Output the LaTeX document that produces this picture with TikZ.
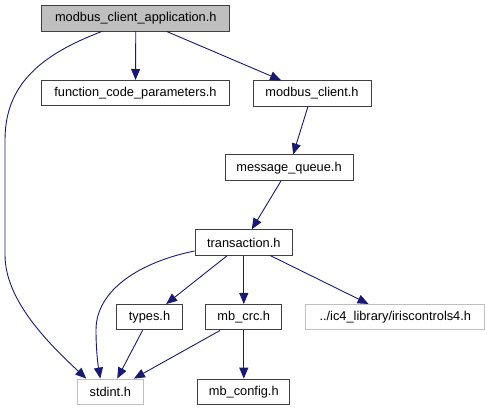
\documentclass[tikz,border=0pt]{standalone}
\usepackage{fontspec}
\setmainfont{Liberation Sans}
\usepackage{tikz}
\usetikzlibrary{arrows.meta}
\definecolor{edgeblue}{HTML}{191970}
\definecolor{boxline}{HTML}{404040}
\definecolor{sysline}{HTML}{BFBFBF}
\tikzset{
    hdr/.style={draw=boxline,line width=0.9pt,minimum height=25.5pt,inner sep=0pt,font=\fontsize{12.8}{15}\selectfont},
    syshdr/.style={hdr,draw=sysline},
    arrow/.style={-{Triangle[length=11pt,width=9pt]},draw=edgeblue,line width=0.9pt}
}
\begin{document}
\begin{tikzpicture}[x=1pt,y=-1pt]
    \useasboundingbox (0,0) rectangle (491,411);
    % header files
    \node[hdr,fill=gray!50,minimum width=188pt] (app) at (135.8,18.3) {modbus\_client\_application.h};
    \node[hdr,minimum width=188pt] (fcp) at (135.5,93.2) {function\_code\_parameters.h};
    \node[hdr,minimum width=118pt] (mc) at (312,93.5) {modbus\_client.h};
    \node[hdr,minimum width=128pt] (mq) at (289,167.7) {message\_queue.h};
    \node[hdr,minimum width=97.5pt] (tr) at (243.8,242.5) {transaction.h};
    \node[hdr,minimum width=66pt] (types) at (149.5,317.2) {types.h};
    \node[hdr,minimum width=76pt] (crc) at (243.8,317.2) {mb\_crc.h};
    \node[syshdr,minimum width=179pt] (iris) at (395.3,317.2) {../ic4\_library/iriscontrols4.h};
    \node[syshdr,minimum width=66pt] (stdint) at (110.3,391.8) {stdint.h};
    \node[hdr,minimum width=92pt] (cfg) at (243.8,391.8) {mb\_config.h};

    % includes
    \draw[arrow] (app) -- (fcp);
    \draw[arrow] (app) -- (mc);
    \draw[arrow] ([xshift=-34pt]app.south) .. controls (40,55) and (5,85) .. (5,140)
        -- (5,255) .. controls (5,300) and (48,343) .. ([xshift=-24pt]stdint.north);
    \draw[arrow] (mc) -- (mq);
    \draw[arrow] (mq) -- (tr);
    \draw[arrow] ([yshift=-8.5pt]tr.west) .. controls (140,262) and (96,290) .. (96,330)
        .. controls (96,350) and (98,365) .. ([xshift=-10pt]stdint.north);
    \draw[arrow] (tr) -- (types);
    \draw[arrow] (tr) -- (crc);
    \draw[arrow] (tr) -- (iris);
    \draw[arrow] (types) -- (stdint);
    \draw[arrow] (crc) -- (stdint);
    \draw[arrow] (crc) -- (cfg);
\end{tikzpicture}
\end{document}
